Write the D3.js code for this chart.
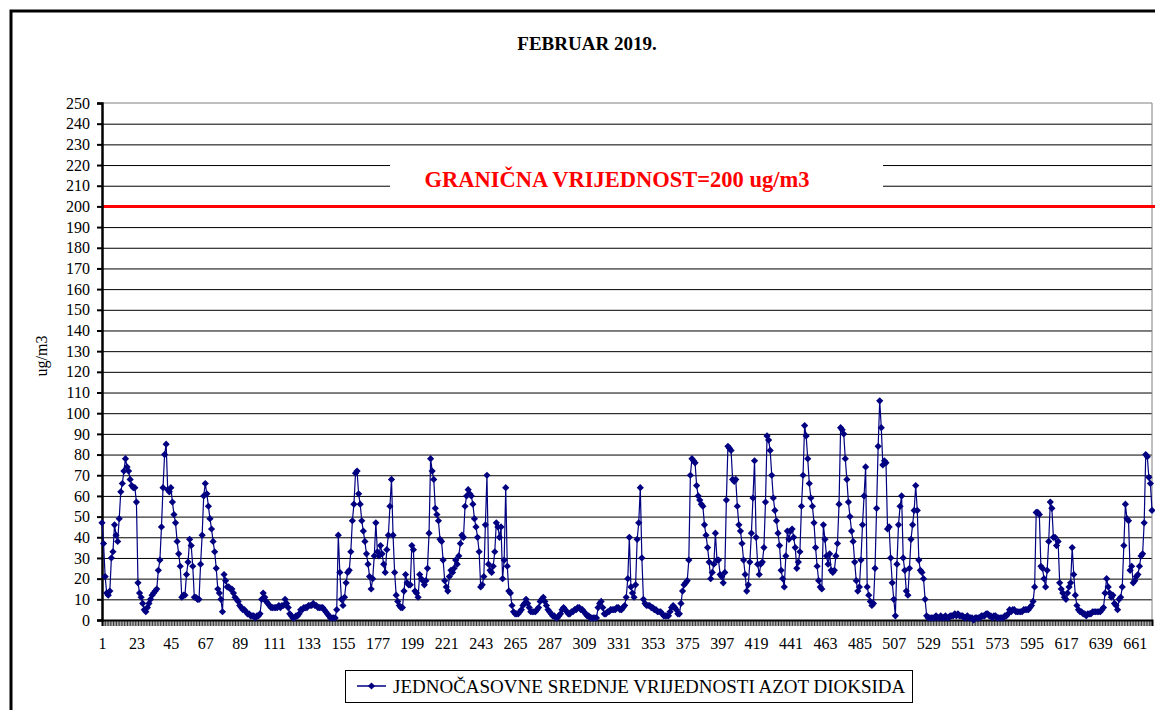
<!DOCTYPE html>
<html>
<head>
<meta charset="utf-8">
<script src="https://cdn.jsdelivr.net/npm/d3@7"></script>
<style>
  html, body { margin: 0; padding: 0; background: #fff; }
  svg { display: block; }
  svg text { font-family: "Times New Roman", "Liberation Serif", "DejaVu Serif", Times, serif !important; }
</style>
</head>
<body>
<svg id="chart" width="1155" height="710"></svg>
<script>
// ---- DATA ----
const title = "FEBRUAR 2019.";
const limitLabel = "GRANIČNA VRIJEDNOST=200 ug/m3";
const limitValue = 200;
const yLabel = "ug/m3";
const seriesName = "JEDNOČASOVNE SREDNJE VRIJEDNOSTI AZOT DIOKSIDA";
const yTicks = d3.range(0, 251, 10);
const xTickLabels = [1, 23, 45, 67, 89, 111, 133, 155, 177, 199, 221, 243, 265, 287, 309, 331, 353, 375, 397, 419, 441, 463, 485, 507, 529, 551, 573, 595, 617, 639, 661];
const no2Values = [
  47, 37, 21, 13, 12, 14, 30, 33, 46, 41,
  38, 49, 62, 66, 72, 78, 74, 72, 68, 65,
  64, 64, 57, 18, 13, 11, 8, 5, 4, 6,
  8, 10, 12, 13, 14, 15, 24, 29, 45, 64,
  80, 85, 63, 62, 64, 57, 51, 47, 38, 32,
  26, 11, 12, 12, 22, 28, 39, 36, 26, 11,
  11, 10, 10, 27, 41, 60, 66, 61, 55, 49,
  44, 38, 33, 25, 15, 13, 10, 4, 22, 19,
  16, 16, 15, 15, 13, 11, 10, 9, 7, 6,
  5, 5, 4, 3, 3, 2, 2, 2, 1, 2,
  2, 3, 10, 13, 11, 9, 8, 7, 6, 6,
  6, 6, 6, 7, 6, 7, 7, 10, 8, 6,
  3, 2, 1, 1, 2, 2, 3, 5, 5, 6,
  6, 6, 7, 7, 7, 8, 7, 7, 6, 6,
  6, 6, 5, 4, 3, 2, 1, 1, 1, 1,
  5, 41, 23, 10, 7, 11, 18, 23, 24, 33,
  48, 56, 71, 72, 61, 56, 48, 43, 38, 32,
  27, 21, 15, 20, 31, 47, 33, 31, 36, 32,
  27, 23, 34, 41, 55, 68, 41, 23, 12, 9,
  7, 6, 6, 14, 22, 18, 17, 17, 36, 34,
  14, 13, 11, 22, 20, 19, 17, 19, 25, 42,
  78, 72, 68, 54, 51, 48, 39, 38, 29, 19,
  16, 14, 21, 24, 23, 25, 29, 27, 31, 37,
  41, 40, 55, 60, 63, 61, 60, 56, 49, 45,
  40, 33, 16, 17, 21, 46, 70, 27, 24, 23,
  26, 33, 47, 45, 40, 45, 20, 29, 64, 26,
  14, 13, 7, 4, 3, 3, 3, 4, 5, 7,
  8, 10, 8, 6, 4, 4, 4, 4, 5, 6,
  9, 10, 11, 9, 7, 5, 4, 3, 2, 2,
  1, 1, 2, 3, 5, 6, 5, 4, 3, 3,
  4, 4, 5, 5, 6, 6, 5, 5, 4, 3,
  2, 2, 1, 1, 1, 1, 1, 6, 8, 9,
  6, 3, 3, 4, 4, 5, 5, 5, 5, 6,
  6, 5, 5, 6, 7, 11, 20, 40, 16, 13,
  11, 17, 39, 47, 64, 30, 10, 8, 7, 7,
  7, 6, 6, 5, 5, 4, 4, 4, 3, 2,
  2, 2, 2, 4, 6, 7, 6, 5, 3, 3,
  8, 14, 17, 18, 19, 29, 70, 78, 77, 76,
  65, 60, 58, 56, 55, 46, 41, 35, 28, 20,
  23, 27, 42, 29, 29, 22, 21, 18, 23, 58,
  84, 83, 82, 68, 67, 68, 55, 46, 43, 37,
  29, 22, 14, 17, 28, 42, 59, 77, 40, 27,
  22, 27, 28, 35, 57, 89, 87, 82, 70, 59,
  53, 48, 42, 36, 24, 20, 16, 31, 43, 39,
  43, 44, 40, 35, 25, 28, 33, 55, 70, 94,
  89, 78, 66, 59, 55, 47, 35, 26, 19, 16,
  15, 46, 39, 31, 27, 32, 24, 23, 24, 31,
  37, 56, 93, 92, 90, 78, 68, 57, 50, 43,
  38, 28, 19, 14, 16, 29, 46, 60, 74, 16,
  12, 9, 7, 8, 25, 54, 84, 106, 93, 75,
  77, 76, 44, 45, 30, 18, 10, 2, 27, 46,
  55, 60, 30, 24, 14, 12, 25, 39, 46, 53,
  65, 53, 29, 24, 23, 20, 10, 2, 1, 1,
  1, 1, 1, 2, 1, 1, 2, 1, 1, 2,
  1, 1, 2, 2, 2, 3, 2, 3, 2, 2,
  2, 1, 1, 2, 1, 1, 1, 0, 1, 1,
  1, 1, 2, 2, 2, 3, 3, 2, 2, 1,
  2, 2, 1, 1, 1, 1, 1, 2, 2, 3,
  5, 4, 5, 5, 4, 4, 4, 4, 4, 5,
  5, 5, 5, 6, 7, 9, 16, 52, 52, 51,
  26, 25, 20, 16, 24, 38, 57, 54, 40, 40,
  36, 38, 18, 15, 13, 11, 10, 13, 16, 18,
  35, 22, 12, 7, 5, 4, 4, 3, 3, 2,
  3, 3, 3, 4, 4, 4, 4, 4, 4, 5,
  6, 13, 20, 16, 13, 11, 12, 8, 7, 5,
  10, 11, 16, 36, 56, 49, 48, 24, 26, 18,
  19, 21, 22, 26, 31, 32, 47, 80, 79, 69,
  66, 53
];
const hours = no2Values.map((v, i) => i + 1);

// ---- LAYOUT ----
const FONT = "'Times New Roman', 'Liberation Serif', 'DejaVu Serif', serif";
const svg = d3.select("#chart");
const W = 1155, H = 710;
const plot = { left: 102, right: 1152, top: 103, bottom: 620 };
const navy = "#000080";

svg.append("rect").attr("width", W).attr("height", H).attr("fill", "#fff");

// outer chart border (clipped like the reference)
svg.append("rect")
  .attr("x", 11).attr("y", 11).attr("width", 1160).attr("height", 720)
  .attr("fill", "none").attr("stroke", "#000").attr("stroke-width", 3);

const x = d3.scaleLinear().domain([1, 672]).range([plot.left, plot.right]);
const y = d3.scaleLinear().domain([0, 250]).range([plot.bottom, plot.top]);

// gridlines
const grid = svg.append("g").attr("transform", `translate(${plot.left},0)`)
  .call(d3.axisLeft(y).tickValues(yTicks.filter(d => d > 0 && d < 250)).tickSize(-(plot.right - plot.left)).tickFormat(""));
grid.select(".domain").remove();
grid.selectAll(".tick line").attr("stroke", "#000").attr("stroke-width", 1);

// plot area border top / right (grey)
svg.append("line").attr("x1", plot.left).attr("x2", plot.right).attr("y1", y(250)).attr("y2", y(250))
  .attr("stroke", "#808080").attr("stroke-width", 1);
svg.append("line").attr("x1", plot.right).attr("x2", plot.right).attr("y1", y(250)).attr("y2", y(0))
  .attr("stroke", "#808080").attr("stroke-width", 1);

// white box behind limit label
svg.append("rect").attr("x", 390).attr("y", 152).attr("width", 493).attr("height", 44).attr("fill", "#fff");

// limit line
svg.append("line")
  .attr("x1", plot.left).attr("x2", W)
  .attr("y1", y(limitValue)).attr("y2", y(limitValue))
  .attr("stroke", "#ff0000").attr("stroke-width", 3);

svg.append("text")
  .attr("x", 617).attr("y", 187)
  .attr("text-anchor", "middle")
  .attr("font-family", FONT)
  .attr("font-size", 22.5).attr("font-weight", "bold")
  .attr("fill", "#ff0000")
  .text(limitLabel);

// y axis
const yAxis = svg.append("g").attr("transform", `translate(${plot.left},0)`)
  .call(d3.axisLeft(y).tickValues(yTicks).tickSize(5).tickPadding(7));
yAxis.attr("font-family", FONT);
yAxis.select(".domain").attr("stroke", "#000").attr("stroke-width", 2.5);
yAxis.selectAll(".tick line").attr("stroke", "#000").attr("stroke-width", 2);
yAxis.selectAll(".tick text")
  .attr("font-family", FONT).attr("font-size", 16).attr("fill", "#000");

// x axis
const labelSet = new Set(xTickLabels);
const xAxis = svg.append("g").attr("transform", `translate(0,${plot.bottom})`)
  .call(d3.axisBottom(x).tickValues(hours).tickSize(6).tickPadding(12)
    .tickFormat(d => labelSet.has(d) ? String(d) : ""));
xAxis.attr("font-family", FONT);
xAxis.select(".domain").attr("stroke", "#000").attr("stroke-width", 2);
xAxis.selectAll(".tick line").attr("stroke", "#000").attr("stroke-width", 0.8);
xAxis.selectAll(".tick text")
  .attr("font-family", FONT).attr("font-size", 16).attr("fill", "#000");

// series line
const line = d3.line().x((d, i) => x(hours[i])).y(d => y(d));
svg.append("path").datum(no2Values)
  .attr("d", line).attr("fill", "none")
  .attr("stroke", navy).attr("stroke-width", 1.2);

// markers
const diamond = "M0,-3.6L3.6,0L0,3.6L-3.6,0Z";
svg.append("g").selectAll("path").data(no2Values).join("path")
  .attr("d", diamond)
  .attr("transform", (d, i) => `translate(${x(hours[i])},${y(d)})`)
  .attr("fill", navy);

// title
svg.append("text")
  .attr("x", 587).attr("y", 50).attr("text-anchor", "middle")
  .attr("font-family", FONT)
  .attr("font-size", 19).attr("font-weight", "bold").attr("fill", "#000")
  .text(title);

// y label
svg.append("text")
  .attr("transform", "translate(47,356) rotate(-90)")
  .attr("text-anchor", "middle").attr("font-family", FONT).attr("font-size", 16).attr("fill", "#000")
  .text(yLabel);

// legend
const lg = svg.append("g");
lg.append("rect").attr("x", 345.5).attr("y", 670.5).attr("width", 567).attr("height", 32)
  .attr("fill", "#fff").attr("stroke", "#000").attr("stroke-width", 1);
lg.append("line").attr("x1", 357).attr("x2", 386).attr("y1", 686).attr("y2", 686)
  .attr("stroke", navy).attr("stroke-width", 1.5);
lg.append("path").attr("d", diamond).attr("transform", "translate(371.5,686)").attr("fill", navy);
lg.append("text").attr("x", 393).attr("y", 693).attr("font-family", FONT).attr("font-size", 19).attr("fill", "#000")
  .text(seriesName);
</script>
</body>
</html>
